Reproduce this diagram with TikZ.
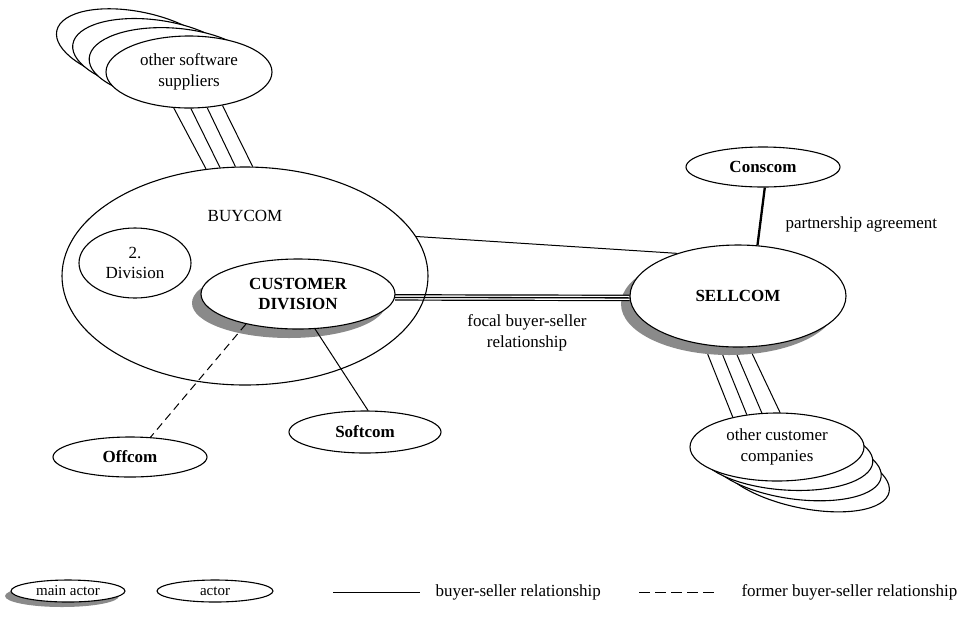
\documentclass[tikz,border=0pt]{standalone}
\usepackage{fontspec}
\setmainfont{Liberation Serif}
\usetikzlibrary{shapes.geometric}

\pgfdeclarelayer{shadowlayer}
\pgfdeclarelayer{linklayer}
\pgfsetlayers{shadowlayer,linklayer,main}

\definecolor{shadowgray}{RGB}{138,138,138}

\tikzset{
  ov/.style={ellipse, draw, fill=white, inner sep=0pt, line width=1.1pt},
  shadowov/.style={ellipse, fill=shadowgray, inner sep=0pt},
  lbl/.style={font=\fontsize{17}{20.5}\selectfont, align=center},
  boldlbl/.style={font=\fontsize{17}{20.5}\selectfont\bfseries, align=center},
  smalllbl/.style={font=\fontsize{15}{18}\selectfont},
  link/.style={line width=1pt},
  formerlink/.style={line width=1pt, dash pattern=on 8pt off 5pt},
  legenddash/.style={line width=1pt, dash pattern=on 11pt off 5pt},
  partner/.style={line width=2.3pt},
}

\begin{document}
\begin{tikzpicture}[x=1pt,y=-1pt]
\useasboundingbox (0,0) rectangle (965,625);

% --- stacked supplier ellipses (back to front, each tilted a little more)
\foreach \k in {3,2,1}
  \node[ov, minimum width=166pt, minimum height=72pt, rotate=-4*\k] (sup\k) at ({189-17*\k},{72-8*\k}) {};
\node[ov, lbl, minimum width=166pt, minimum height=72pt] (sup) at (189,72) {other software\\suppliers};

% --- BUYCOM with its divisions
\node[ellipse, draw, line width=1.1pt, inner sep=0pt, minimum width=366pt, minimum height=218pt] (buy) at (245,276) {};
\node[lbl] (buylbl) at (245,215.5) {BUYCOM};
\node[ov, lbl, minimum width=112pt, minimum height=70pt] (div2) at (135,263) {2.\\Division};

\begin{pgfonlayer}{shadowlayer}
  \node[shadowov, minimum width=194pt, minimum height=70pt] (cdsh) at (289,303) {};
  \node[shadowov, minimum width=216pt, minimum height=102pt] (sellsh) at (729,304) {};
  \node[shadowov, minimum width=114pt, minimum height=22pt] (mainsh) at (62,596) {};
\end{pgfonlayer}

\node[ov, boldlbl, minimum width=194pt, minimum height=70pt] (cd) at (298,294) {CUSTOMER\\DIVISION};

% --- SELLCOM and partners
\node[ov, boldlbl, minimum width=216pt, minimum height=102pt] (sell) at (738,296) {SELLCOM};
\node[ov, boldlbl, minimum width=154pt, minimum height=40pt] (con) at (763,167) {Conscom};
\node[ov, boldlbl, minimum width=152pt, minimum height=42pt] (soft) at (365,432) {Softcom};
\node[ov, boldlbl, minimum width=154pt, minimum height=40pt] (off) at (130,457) {Offcom};

% --- stacked customer ellipses (back to front, each tilted a little more)
\foreach \k in {3,2,1}
  \node[ov, minimum width=174pt, minimum height=68pt, rotate=-4*\k] (cust\k) at ({777+9*\k},{447+9*\k}) {};
\node[ov, lbl, minimum width=174pt, minimum height=68pt] (cust) at (777,447) {other customer\\companies};

% --- relationship labels
\node[lbl, anchor=base west] (partnerlbl) at (782,228) {partnership agreement};
\node[lbl] (focallbl) at (527,333) {focal buyer-seller\\relationship};

% --- connectors
\begin{pgfonlayer}{linklayer}
  \draw[link] (sup.247) -- (buy.110);
  \draw[link] (sup.273) -- (buy.103);
  \draw[link] (sup.297) -- (buy.95);
  \draw[link] (sup.315) -- (buy.86);

  \draw[link] (buy.13) -- (sell.145);
  \draw[partner] (con.275) -- (sell.69);
  \draw[link] (cd.296) -- (soft.82);
  \draw[formerlink] (cd.210) -- (off.44);

  % focal relationship: triple line
  \draw[line width=6.5pt] (cd.358) -- (sell.181);
  \draw[line width=4.1pt, white] (cd.358) -- (sell.181);
  \draw[line width=1.3pt] (cd.358) -- (sell.181);

  \draw[link] (sellsh.247) -- (cust.146);
  \draw[link] (sellsh.263) -- (cust.133);
  \draw[link] (sellsh.279) -- (cust.114);
  \draw[link] (sellsh.295) -- (cust.85);
\end{pgfonlayer}

% --- legend
\node[ov, smalllbl, minimum width=114pt, minimum height=22pt] (mainleg) at (68,591) {main actor};
\node[ov, smalllbl, minimum width=116pt, minimum height=22pt] (actleg) at (215,591) {actor};
\coordinate (sl1) at (333,592);
\coordinate (sl2) at (420,592);
\draw[link] (sl1) -- (sl2);
\node[lbl, anchor=base west] (sllbl) at (432,596) {buyer-seller relationship};
\coordinate (dl1) at (639,592);
\coordinate (dl2) at (719,592);
\draw[legenddash] (dl1) -- (dl2);
\node[lbl, anchor=base west] (dllbl) at (738,596) {former buyer-seller relationship};
\end{tikzpicture}
\end{document}
